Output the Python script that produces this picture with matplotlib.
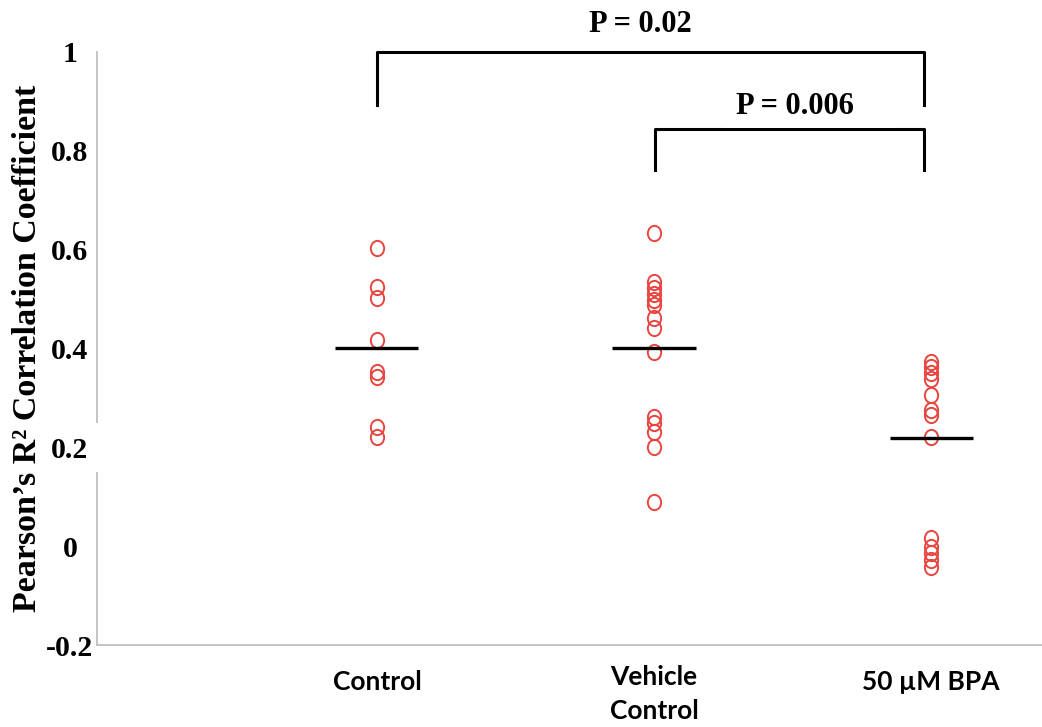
import matplotlib
matplotlib.use("Agg")
import matplotlib.pyplot as plt
from matplotlib.path import Path
from matplotlib.transforms import Affine2D, ScaledTranslation
from matplotlib.patches import Rectangle
import numpy as np

# Group labels and per-cell correlation values
categories = ["Control", "Vehicle\nControl", "50 µM BPA"]
control = [0.603, 0.524, 0.502, 0.417, 0.353, 0.343, 0.242, 0.221]
vehicle = [0.633, 0.535, 0.523, 0.511, 0.499, 0.488, 0.461, 0.441, 0.392,
           0.262, 0.249, 0.232, 0.200, 0.090]
bpa = [0.373, 0.363, 0.350, 0.338, 0.306, 0.276, 0.265, 0.221,
       0.016, -0.001, -0.014, -0.028, -0.042]
group_means = [0.400, 0.400, 0.218]
y_ticks = [-0.2, 0, 0.2, 0.4, 0.6, 0.8, 1.0]
y_tick_labels = ["-0.2", "0", "0.2", "0.4", "0.6", "0.8", "1"]
p_values = ["P = 0.02", "P = 0.006"]

W, H = 1042, 727
fig = plt.figure(figsize=(W / 100, H / 100), dpi=100)
ax = fig.add_axes([97 / W, 82 / H, 1 - 97 / W, (645 - 52) / H])

red = "#e8443f"
axis_grey = "#bfbfbf"
serif = ["Liberation Serif", "DejaVu Serif"]
sans = ["Liberation Sans Narrow", "Lato", "DejaVu Sans"]

# slightly tall open circle marker
oval = Path.unit_circle().transformed(Affine2D().scale(1.0, 1.15))

groups = [control, vehicle, bpa]
positions = [1, 2, 3]
for pos, vals in zip(positions, groups):
    xs = np.full(len(vals), pos, dtype=float)
    ax.plot(xs, vals, linestyle="none", marker=oval, markersize=11,
            markerfacecolor="none", markeredgecolor=red, markeredgewidth=1.4,
            zorder=3)

for pos, m in zip(positions, group_means):
    ax.plot([pos - 0.15, pos + 0.15], [m, m], color="black", lw=2.4,
            solid_capstyle="butt", zorder=4)

ax.set_xlim(-0.01, 3.4)
ax.set_ylim(-0.2, 1.0)

# axes styling
for side in ["top", "right"]:
    ax.spines[side].set_visible(False)
for side in ["left", "bottom"]:
    ax.spines[side].set_color(axis_grey)
    ax.spines[side].set_linewidth(1.3)

ax.set_yticks(y_ticks)
ax.set_yticklabels(y_tick_labels, fontfamily=serif, fontweight="bold",
                   fontsize=21.5)
ax.tick_params(axis="y", length=0, pad=19.5)
for lbl in ax.get_yticklabels():
    lbl.set_horizontalalignment("center")

ax.set_xticks(positions)
ax.set_xticklabels(categories, fontfamily=sans, fontweight="bold",
                   fontsize=19, linespacing=1.5)
ax.tick_params(axis="x", length=0, pad=18)
xl = ax.get_xticklabels()
xl[1].set_transform(xl[1].get_transform() +
                    ScaledTranslation(0, 5 / 100, fig.dpi_scale_trans))

ax.set_ylabel("Pearson’s R² Correlation Coefficient",
              fontfamily=serif, fontweight="bold", fontsize=24.5)
ax.yaxis.set_label_coords(-0.057, 0.5)

# white patch behind the 0.2 label that breaks the axis line
fig.add_artist(Rectangle((90 / W, (H - 472) / H), 14 / W, 49 / H,
                         transform=fig.transFigure, facecolor="white",
                         edgecolor="none", zorder=10))

# significance brackets
bk = dict(color="black", lw=2.2, clip_on=False, zorder=5,
          solid_capstyle="projecting")
ax.plot([1, 1, 2.975, 2.975], [0.893, 1.0, 1.0, 0.893], **bk)
ax.plot([2.005, 2.005, 2.975, 2.975], [0.762, 0.844, 0.844, 0.762], **bk)

ax.text(1.95, 1.055, p_values[0], ha="center", va="center",
        fontfamily=serif, fontweight="bold", fontsize=22, clip_on=False)
# white label box that sits over the upper edge of the inner bracket
ax.add_patch(Rectangle((2.25, 0.8455), 0.62, 0.08, facecolor="white",
                       edgecolor="none", zorder=6, clip_on=False))
ax.text(2.509, 0.889, p_values[1], ha="center", va="center",
        fontfamily=serif, fontweight="bold", fontsize=22, clip_on=False,
        zorder=7)

fig.savefig("out.png", dpi=100)
